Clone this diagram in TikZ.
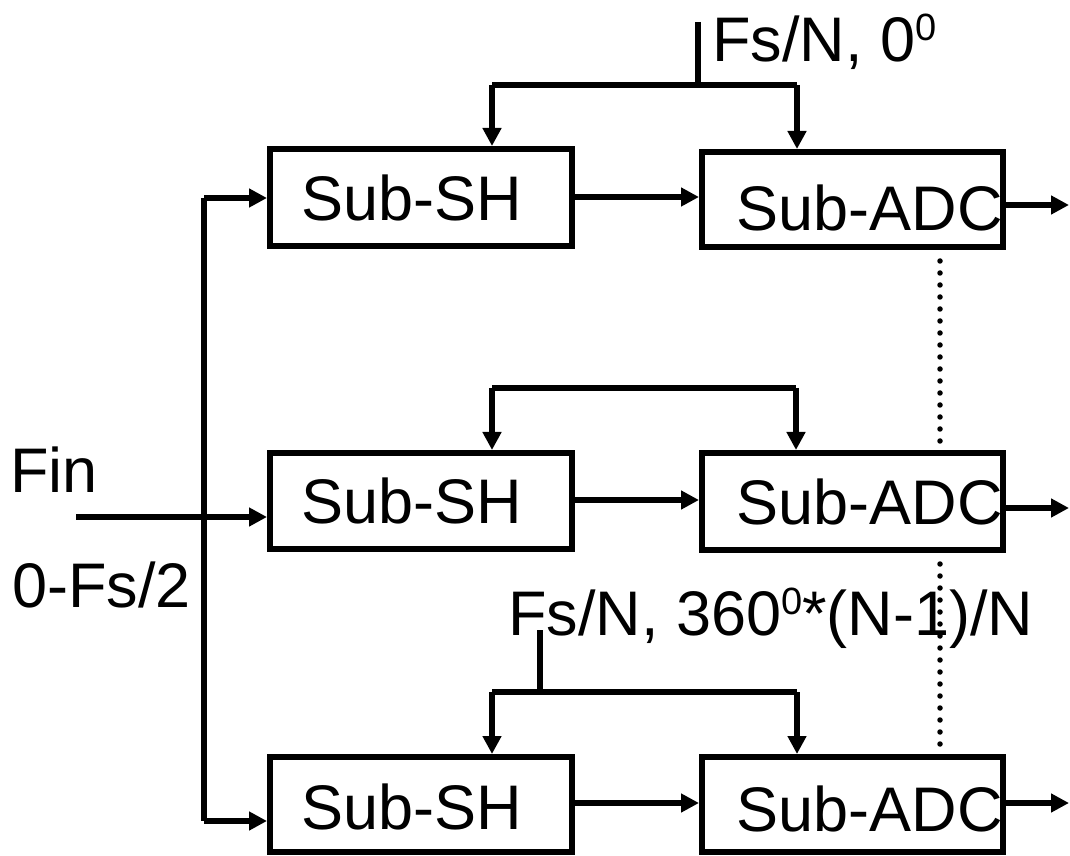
\documentclass[tikz,border=0pt]{standalone}
\usepackage{fontspec}
\setmainfont{Liberation Sans}
\usetikzlibrary{arrows.meta}
\newcommand\supzero{\raisebox{21pt}{\fontsize{38}{40}\selectfont 0}}
\begin{document}
\begin{tikzpicture}[x=1pt,y=1pt,
  big/.style={font=\fontsize{63}{70}\selectfont},
  blk/.style={draw, line width=6pt, rectangle, inner sep=0pt, big},
  wire/.style={line width=6pt, line join=miter},
  arr/.style={wire, -{Triangle[length=18pt,width=18pt]}},
  dots/.style={line width=5.5pt, line cap=round, dash pattern=on 0pt off 12pt},
  lbl/.style={big, anchor=base west, inner sep=0pt}]
\useasboundingbox (0,0) rectangle (1070,855);
% blocks
\node[blk, minimum width=302pt, minimum height=97pt, label={[big,xshift=-9pt]center:Sub-SH}] (sh1) at (421,657.5) {};
\node[blk, minimum width=301pt, minimum height=95pt, label={[big,xshift=17pt,yshift=-8pt]center:Sub-ADC}] (adc1) at (852.5,655.5) {};
\node[blk, minimum width=302pt, minimum height=96pt, label={[big,xshift=-9pt]center:Sub-SH}] (sh2) at (421,354) {};
\node[blk, minimum width=301pt, minimum height=97pt, label={[big,xshift=17pt]center:Sub-ADC}] (adc2) at (852.5,353.5) {};
\node[blk, minimum width=302pt, minimum height=95pt, label={[big,xshift=-9pt,yshift=-2pt]center:Sub-SH}] (sh3) at (421,50.5) {};
\node[blk, minimum width=301pt, minimum height=95pt, label={[big,xshift=17pt,yshift=-4pt]center:Sub-ADC}] (adc3) at (852.5,50.5) {};
% labels
\node[lbl] (clk1lbl) at (712,793) {Fs/N, 0\supzero};
\node[lbl] (fin) at (10,363) {Fin};
\node[lbl] (rng) at (12,248) {0-Fs/2};
\node[lbl] (clk3lbl) at (508,220) {Fs/N, 360\supzero*(N-1)/N};
% coordinates
\coordinate (t1) at (698,833);
\coordinate (j1) at (698,770);
\coordinate (l1) at (492,770);
\coordinate (r1) at (797,770);
\coordinate (l2) at (492,467);
\coordinate (r2) at (796,467);
\coordinate (t3) at (540,225);
\coordinate (j3) at (540,163);
\coordinate (l3) at (492,163);
\coordinate (r3) at (797,163);
\coordinate (bt) at (204,657);
\coordinate (bb) at (204,34);
\coordinate (fs) at (76,338);
\coordinate (m1) at (572,658);
\coordinate (m2) at (572,355);
\coordinate (m3) at (572,52);
\coordinate (o1) at (1069,650);
\coordinate (o2) at (1069,347);
\coordinate (o3) at (1069,52);
\coordinate (d1a) at (940,594);
\coordinate (d1b) at (940,414);
\coordinate (d2a) at (940,291);
\coordinate (d2b) at (940,110);
% clock 1
\draw[wire] (t1) -- (j1);
\draw[wire] (l1) -- (r1);
\draw[arr] (l1) -- (l1 |- sh1.north);
\draw[arr] (r1) -- (r1 |- adc1.north);
% clock 2
\draw[wire] (l2) -- (r2);
\draw[arr] (l2) -- (l2 |- sh2.north);
\draw[arr] (r2) -- (r2 |- adc2.north);
% clock 3
\draw[wire] (t3) -- (j3);
\draw[wire] (l3) -- (r3);
\draw[arr] (l3) -- (l3 |- sh3.north);
\draw[arr] (r3) -- (r3 |- adc3.north);
% input bus
\draw[wire] (bt) -- (bb);
\draw[arr] (bt) -- (sh1.west |- bt);
\draw[arr] (bb) -- (sh3.west |- bb);
\draw[arr] (fs) -- (sh2.west |- fs);
% SH -> ADC
\draw[arr] (sh1.east |- m1) -- (adc1.west |- m1);
\draw[arr] (sh2.east |- m2) -- (adc2.west |- m2);
\draw[arr] (sh3.east |- m3) -- (adc3.west |- m3);
% outputs
\draw[arr] (adc1.east |- o1) -- (o1);
\draw[arr] (adc2.east |- o2) -- (o2);
\draw[arr] (adc3.east |- o3) -- (o3);
% dotted
\draw[dots] (d1a) -- (d1b);
\draw[dots] (d2a) -- (d2b);
\end{tikzpicture}
\end{document}
